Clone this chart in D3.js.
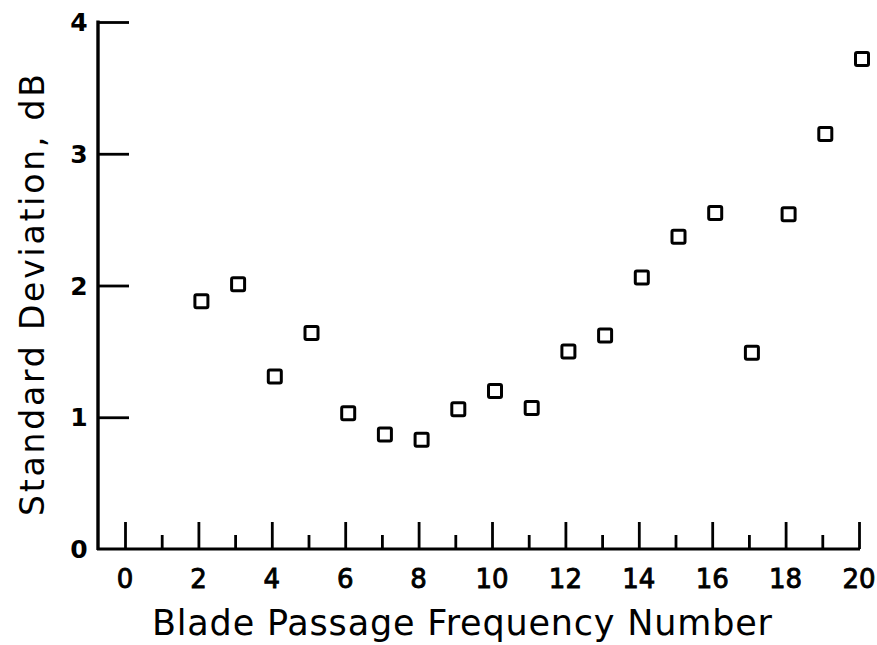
<!DOCTYPE html>
<html>
<head>
<meta charset="utf-8">
<script src="https://cdn.jsdelivr.net/npm/d3@7"></script>
<style>
  html, body { margin: 0; padding: 0; background: #fff; }
  svg { display: block; }
</style>
</head>
<body>
<svg id="chart" width="877" height="645"></svg>
<script>
// Blade passage frequency numbers and their standard deviations (dB)
const bpfNumbers = [2, 3, 4, 5, 6, 7, 8, 9, 10, 11, 12, 13, 14, 15, 16, 17, 18, 19, 20];
const stdDevDb   = [1.88, 2.01, 1.31, 1.64, 1.03, 0.87, 0.83, 1.06, 1.20, 1.07, 1.50, 1.62, 2.06, 2.37, 2.55, 1.49, 2.54, 3.15, 3.72];
const xTickLabels = [0, 2, 4, 6, 8, 10, 12, 14, 16, 18, 20];
const yTickLabels = [0, 1, 2, 3, 4];

const svg = d3.select("#chart");
const ink = "#000";

const x = d3.scaleLinear().domain([0, 20]).range([125, 859]);
const y = d3.scaleLinear().domain([0, 4]).range([549, 22]);
const axisLeftX = 98;

// Frame: vertical axis and baseline
svg.append("line")
  .attr("x1", axisLeftX).attr("x2", axisLeftX)
  .attr("y1", y(4) - 1.5).attr("y2", y(0) + 1)
  .attr("stroke", ink).attr("stroke-width", 3.4);
svg.append("line")
  .attr("x1", axisLeftX - 1).attr("x2", x(20) + 1)
  .attr("y1", y(0)).attr("y2", y(0))
  .attr("stroke", ink).attr("stroke-width", 3);

// Y axis: inward ticks and labels
const yAxis = d3.axisRight(y)
  .tickValues(yTickLabels.filter(v => v > 0))
  .tickSize(31)
  .tickFormat("");
const gy = svg.append("g").attr("transform", `translate(${axisLeftX},0)`).call(yAxis);
gy.select(".domain").remove();
gy.selectAll(".tick line").attr("stroke", ink).attr("stroke-width", 2.8);

svg.append("g").selectAll("text")
  .data(yTickLabels)
  .join("text")
  .attr("x", 79)
  .attr("y", d => y(d))
  .attr("dy", "0.36em")
  .attr("text-anchor", "middle")
  .attr("font-family", "DejaVu Sans, sans-serif")
  .attr("font-weight", "bold")
  .attr("font-size", 25)
  .attr("fill", ink)
  .text(d => d);

// X axis: upward ticks, long on even numbers, short on odd
const xAxis = d3.axisTop(x)
  .tickValues(d3.range(0, 21))
  .tickSize(0)
  .tickFormat("");
const gx = svg.append("g").attr("transform", `translate(0,${y(0)})`).call(xAxis);
gx.select(".domain").remove();
gx.selectAll(".tick line")
  .attr("y2", d => (d % 2 === 0 ? -27 : -14))
  .attr("stroke", ink)
  .attr("stroke-width", 2.8);

svg.append("g").selectAll("text")
  .data(xTickLabels)
  .join("text")
  .attr("x", d => x(d))
  .attr("y", 579)
  .attr("dy", "0.36em")
  .attr("text-anchor", "middle")
  .attr("font-family", "DejaVu Sans, sans-serif")
  .attr("font-size", 26)
  .attr("fill", ink)
  .attr("stroke", ink)
  .attr("stroke-width", 0.9)
  .text(d => d);

// Axis titles
svg.append("text")
  .attr("x", 462)
  .attr("y", 635)
  .attr("text-anchor", "middle")
  .attr("font-family", "DejaVu Sans, sans-serif")
  .attr("font-size", 35)
  .attr("textLength", 620)
  .attr("lengthAdjust", "spacing")
  .attr("fill", ink)
  .text("Blade Passage Frequency Number");

svg.append("text")
  .attr("transform", "translate(44,295) rotate(-90)")
  .attr("text-anchor", "middle")
  .attr("font-family", "DejaVu Sans, sans-serif")
  .attr("font-size", 33)
  .attr("textLength", 442)
  .attr("lengthAdjust", "spacing")
  .attr("fill", ink)
  .text("Standard Deviation, dB");

// Data markers: open squares
const side = 13;
svg.append("g").selectAll("rect")
  .data(bpfNumbers.map((n, i) => ({ n, v: stdDevDb[i] })))
  .join("rect")
  .attr("x", d => x(d.n) + 3 - side / 2)
  .attr("y", d => y(d.v) - side / 2)
  .attr("width", side)
  .attr("height", side)
  .attr("rx", 1.5)
  .attr("fill", "none")
  .attr("stroke", ink)
  .attr("stroke-width", 3);
</script>
</body>
</html>
